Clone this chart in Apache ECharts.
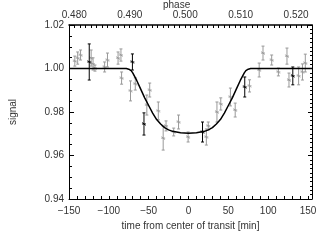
<!DOCTYPE html>
<html><head><meta charset="utf-8">
<script src="https://cdn.jsdelivr.net/npm/echarts@6/dist/echarts.min.js"></script>
<style>html,body{margin:0;padding:0;background:#fff}#c{width:330px;height:240px}</style>
</head><body><div id="c"></div>
<script>
// ---- data ----
const grayTime   = [-142.7,-139.1,-135.5,-122.2,-119.8,-117.4,-105.3,-101.7,-88.4,-84.8,-84.0,-72.8,-66.8,-52.3,-48.7,-37.9,-31.8,-28.2,-18.6,-12.5,-0.5,22.4,24.8,35.7,40.5,52.6,58.6,76.6,88.7,93.5,104.4,112.8,123.6,126.1,138.2,143.0,146.6];
const graySignal = [1.0034,1.0048,1.0062,1.0048,1.0021,1.0002,1.0007,1.0039,1.0048,1.0062,0.9956,0.9897,0.9929,0.9832,0.9901,0.9805,0.9680,0.9736,0.9708,0.9754,0.9685,0.9685,0.9736,0.9800,0.9837,0.9869,0.9809,0.9920,0.9993,1.0071,1.0039,0.9984,1.0057,0.9947,0.9966,0.9984,1.0025];
const grayErr    = [0.0023,0.0028,0.0023,0.0037,0.0028,0.0014,0.0023,0.0032,0.0028,0.0028,0.0028,0.0046,0.0028,0.0046,0.0032,0.0041,0.0055,0.0023,0.0018,0.0032,0.0023,0.0037,0.0018,0.0046,0.0028,0.0041,0.0032,0.0028,0.0032,0.0032,0.0023,0.0018,0.0037,0.0032,0.0041,0.0037,0.0041];
const blackTime   = [-124.6,-70.4,-55.9,17.6,70.6,130.9];
const blackSignal = [1.0030,1.0030,0.9745,0.9708,0.9915,0.9966];
const blackErr    = [0.0083,0.0037,0.0051,0.0046,0.0046,0.0041];
const modelTime   = [-150,-78,-75,-72,-70,-65,-60,-55,-50,-45,-40,-35,-30,-25,-20,-10,0,10,20,25,30,35,40,45,50,55,60,65,70,72,75,78,155];
const modelSignal = [1.0,1.0,0.9997,0.9990,0.9980,0.9945,0.9905,0.9865,0.9830,0.9795,0.9765,0.9745,0.9728,0.9718,0.9711,0.9705,0.9702,0.9705,0.9711,0.9718,0.9728,0.9745,0.9765,0.9795,0.9830,0.9865,0.9905,0.9945,0.9980,0.9990,0.9997,1.0,1.0];
const timeTicks   = [-150,-100,-50,0,50,100,150];
const phaseTicks  = [0.480,0.490,0.500,0.510,0.520];
const signalTicks = [0.94,0.96,0.98,1.00,1.02];

// ---- helpers ----
const minorTime = []; for (let v=-150; v<=150; v+=10) minorTime.push(v);
const minorPhase = []; for (let k=479; k<=522; k++) minorPhase.push(k/1000);
const FONT = 'Liberation Sans';
const TXT = '#333';

function errSeries(t, s, e, color) {
  return {
    type: 'custom', xAxisIndex: 0, yAxisIndex: 0, z: color === '#000' ? 5 : 3,
    data: t.map((v,i)=>[v, s[i], e[i]]),
    renderItem(params, api) {
      const x = api.value(0), y = api.value(1), er = api.value(2);
      const p = api.coord([x,y]), hi = api.coord([x,y+er]), lo = api.coord([x,y-er]);
      const st = {stroke: color, lineWidth: 1};
      return {type:'group', children:[
        {type:'line', shape:{x1:p[0],y1:hi[1],x2:p[0],y2:lo[1]}, style:st},
        {type:'line', shape:{x1:p[0]-1.5,y1:hi[1],x2:p[0]+1.5,y2:hi[1]}, style:st},
        {type:'line', shape:{x1:p[0]-1.5,y1:lo[1],x2:p[0]+1.5,y2:lo[1]}, style:st},
        {type:'line', shape:{x1:p[0]-2,y1:p[1],x2:p[0]+2,y2:p[1]}, style:st},
        {type:'line', shape:{x1:p[0]-1.5,y1:p[1]-1.5,x2:p[0]+1.5,y2:p[1]+1.5}, style:st}
      ]};
    }
  };
}

const chart = echarts.init(document.getElementById('c'), null, {renderer:'canvas'});
chart.setOption({
  animation: false,
  grid: {left: 60, right: 18, top: 25, bottom: 41, show: false},
  xAxis: [
    {type:'value', position:'bottom', min:-150, max:155,
     axisLine:{show:true, onZero:false, lineStyle:{color:'#000', width:1}},
     axisTick:{show:true, inside:true, length:3, customValues: minorTime, lineStyle:{color:'#000'}},
     axisLabel:{customValues: timeTicks, margin:7, fontSize:10, fontFamily:FONT, color:TXT,
                formatter: v => (v<0 ? '\u2212' + Math.abs(v) : String(v))},
     splitLine:{show:false},
     name:'time from center of transit [min]', nameLocation:'middle', nameGap:21,
     nameTextStyle:{fontSize:10, fontFamily:FONT, color:TXT}},
    {type:'value', position:'top', min:0.47905, max:0.52286,
     axisLine:{show:true, onZero:false, lineStyle:{color:'#000', width:1.5}},
     axisTick:{show:true, inside:true, length:3, customValues: minorPhase, lineStyle:{color:'#000'}},
     axisLabel:{customValues: phaseTicks, margin:5, fontSize:10, fontFamily:FONT, color:TXT,
                formatter: v => v.toFixed(3)},
     splitLine:{show:false}}
  ],
  yAxis: [
    {type:'value', position:'left', min:0.94, max:1.02, interval:0.02,
     axisLine:{show:true, onZero:false, lineStyle:{color:'#000', width:1}},
     axisTick:{show:true, inside:true, length:5, lineStyle:{color:'#000'}},
     minorTick:{show:true, splitNumber:4, length:3, lineStyle:{color:'#000'}},
     axisLabel:{margin:5, fontSize:10, fontFamily:FONT, color:TXT, formatter: v => v.toFixed(2)},
     splitLine:{show:false}, minorSplitLine:{show:false},
     name:'signal', nameLocation:'middle', nameGap:51, nameRotate:90,
     nameTextStyle:{fontSize:10, fontFamily:FONT, color:TXT}},
    {type:'value', position:'right', min:0.94, max:1.02, interval:0.02,
     axisLine:{show:true, onZero:false, lineStyle:{color:'#000', width:1}},
     axisTick:{show:true, inside:true, length:4, lineStyle:{color:'#000'}},
     minorTick:{show:true, splitNumber:10, length:2, lineStyle:{color:'#000'}},
     axisLabel:{show:false}, splitLine:{show:false}, minorSplitLine:{show:false}}
  ],
  graphic: [
    {type:'text', left: 163, top: 0, style:{text:'phase', fontSize:10, fontFamily:FONT, fill:TXT}}
  ],
  series: [
    errSeries(grayTime, graySignal, grayErr, '#999'),
    errSeries(blackTime, blackSignal, blackErr, '#000'),
    {type:'line', xAxisIndex:0, yAxisIndex:0, z:4, showSymbol:false, symbol:'none',
     data: modelTime.map((v,i)=>[v, modelSignal[i]]),
     lineStyle:{color:'#000', width:1.5}}
  ]
});
</script></body></html>
